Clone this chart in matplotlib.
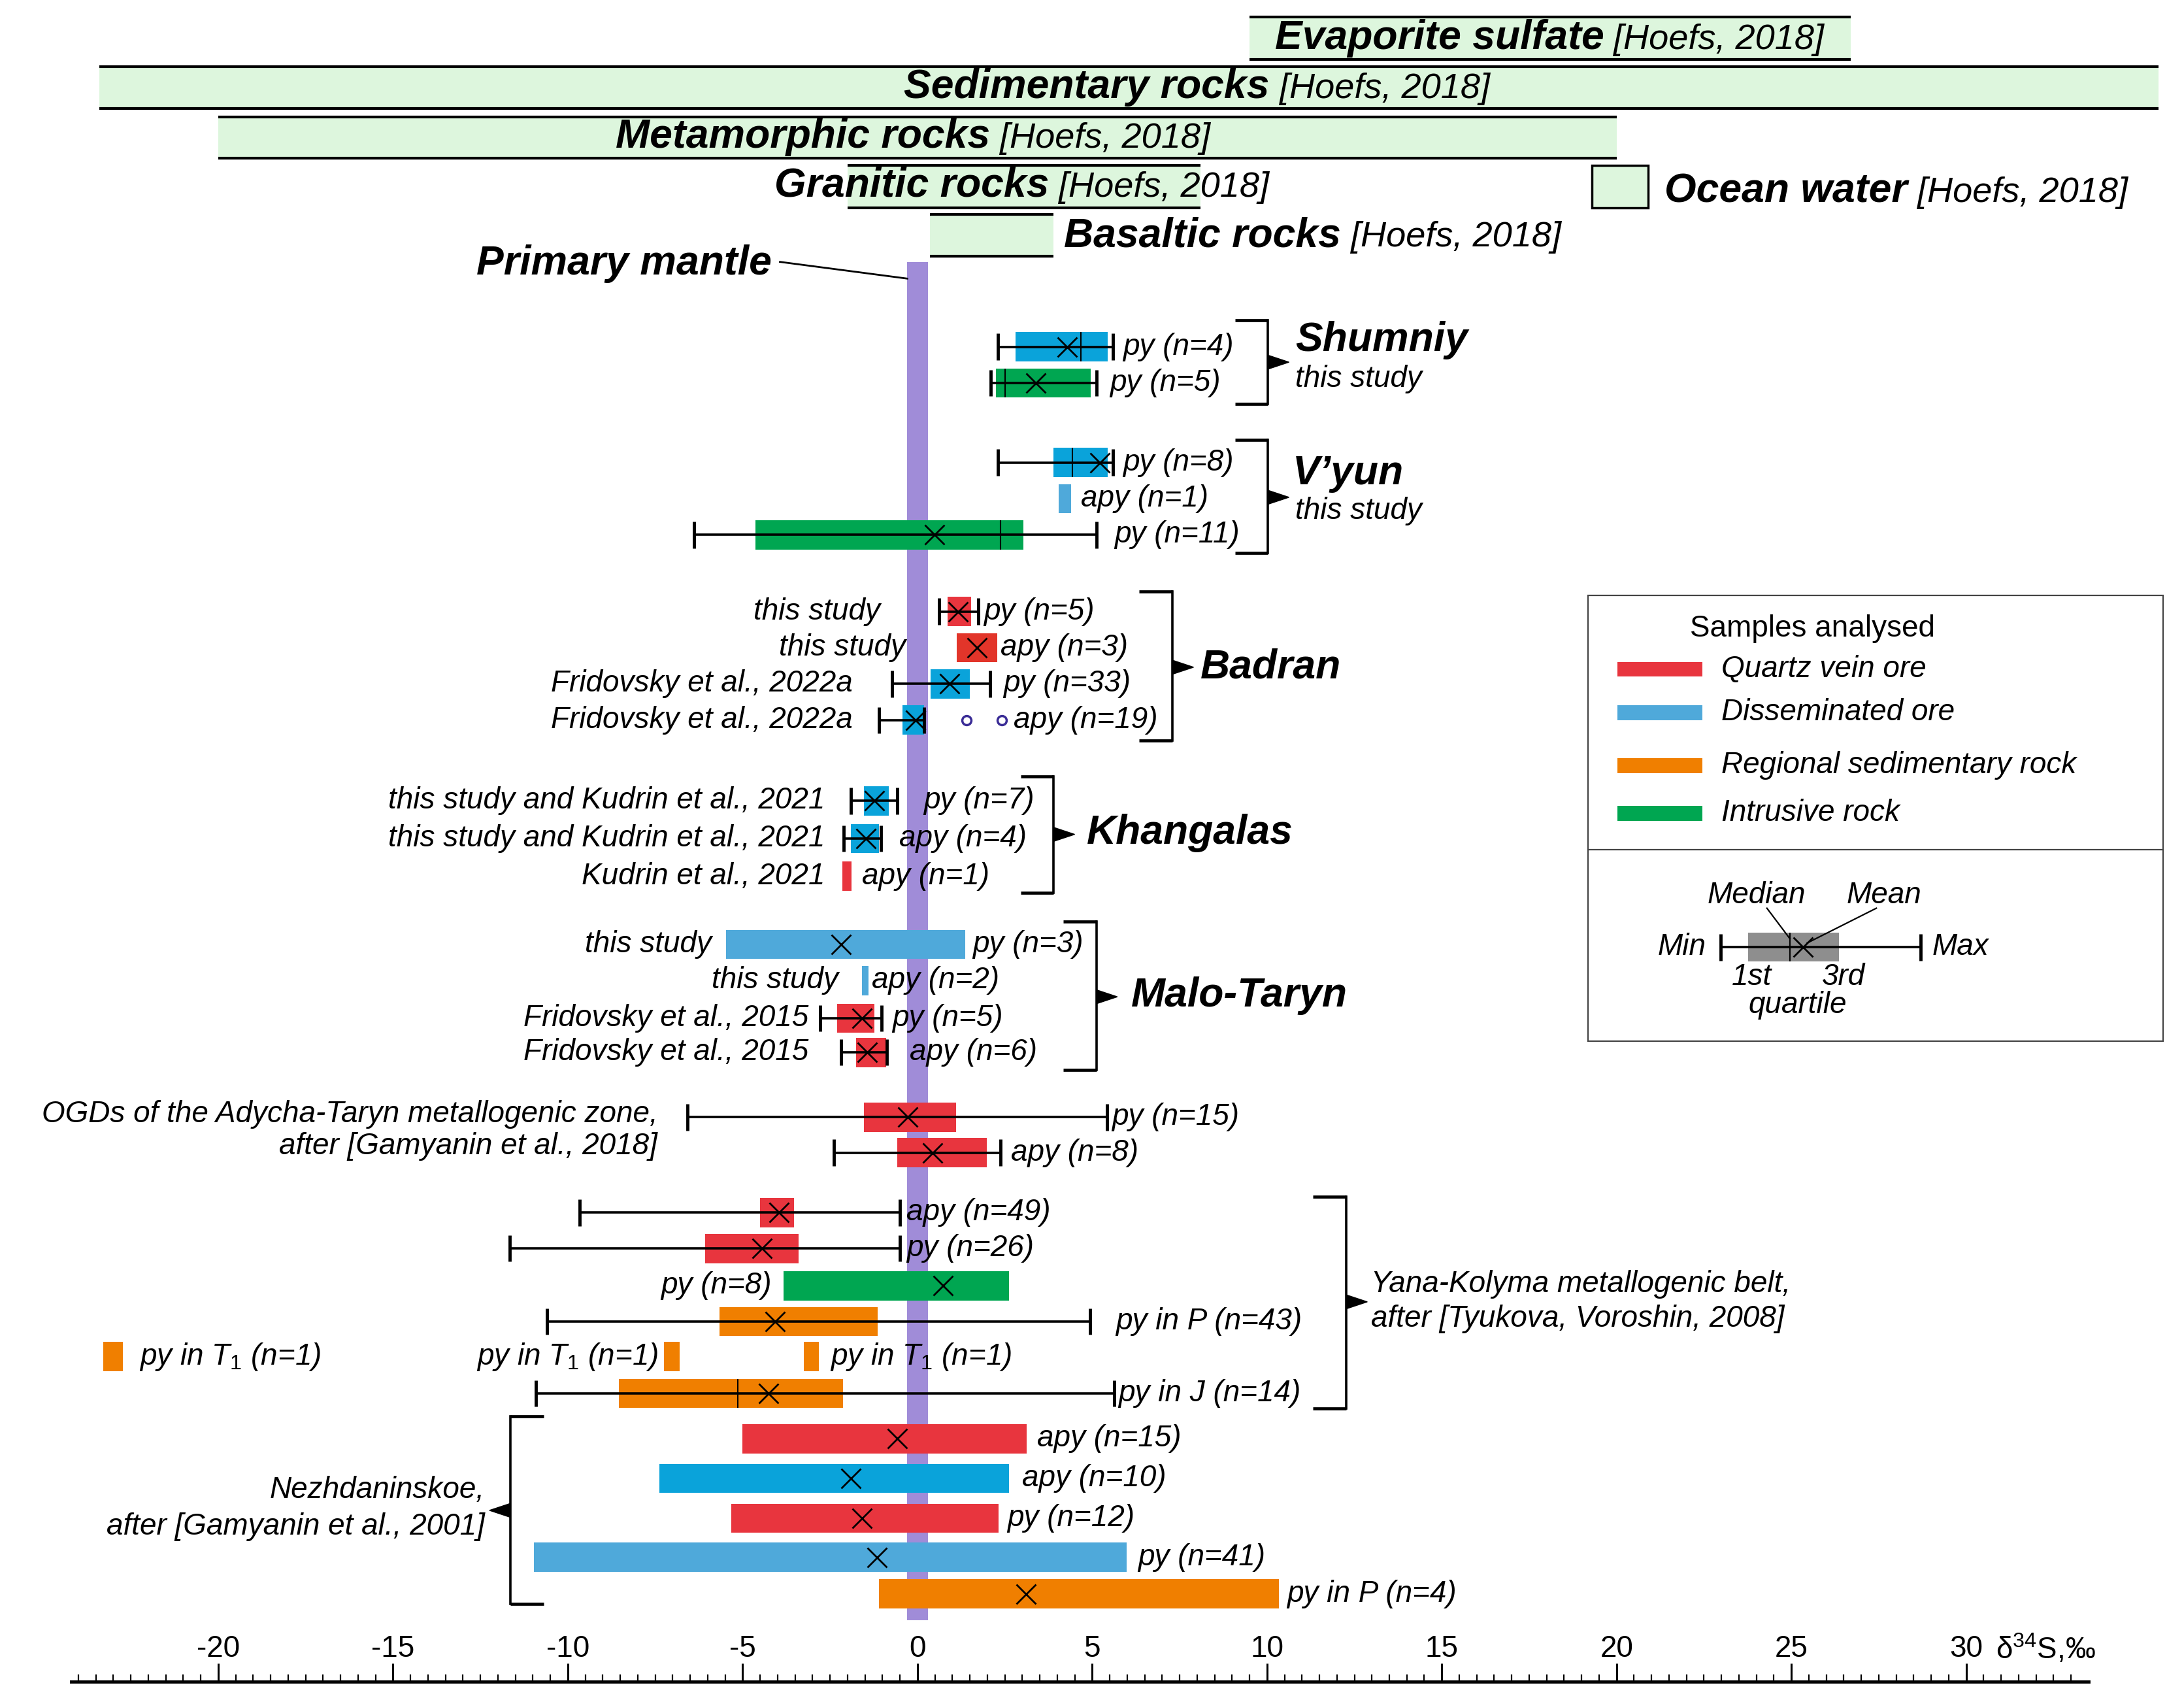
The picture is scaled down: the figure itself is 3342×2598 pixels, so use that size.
import matplotlib
matplotlib.use("Agg")
import matplotlib.pyplot as plt
from matplotlib.patches import Rectangle, Polygon

plt.rcParams['font.family'] = ['Liberation Sans', 'DejaVu Sans']
plt.rcParams['mathtext.fontset'] = 'custom'
plt.rcParams['mathtext.rm'] = 'Liberation Sans'
plt.rcParams['mathtext.it'] = 'Liberation Sans:italic'
plt.rcParams['mathtext.bf'] = 'Liberation Sans:bold'

# ---------------- colours ----------------
RED = '#E8353E'
RED2 = '#E2352A'
BLUE = '#0AA3DA'
LBLUE = '#4FA9DA'
ORANGE = '#F07F00'
GREEN = '#00A651'
PURPLE = '#A08CD8'
MINT = '#DDF6DD'

# ---------------- reference ranges [Hoefs, 2018] ----------------
ref_names = ['Evaporite sulfate', 'Sedimentary rocks', 'Metamorphic rocks',
             'Granitic rocks', 'Basaltic rocks']
ref_lo = [9.5, -23.4, -20.0, -2.0, 0.35]
ref_hi = [26.7, 35.5, 20.0, 8.1, 3.9]
ocean_lo, ocean_hi = 19.3, 20.9
mantle_lo, mantle_hi = -0.29, 0.31

# ---------------- sample statistics (delta34S, permil) ----------------
T1 = r'py in $T_{\mathit{1}}$ (n=1)'
row_text = ['py (n=4)', 'py (n=5)', 'py (n=8)', 'apy (n=1)', 'py (n=11)',
            'py (n=5)', 'apy (n=3)', 'py (n=33)', 'apy (n=19)',
            'py (n=7)', 'apy (n=4)', 'apy (n=1)',
            'py (n=3)', 'apy (n=2)', 'py (n=5)', 'apy (n=6)',
            'py (n=15)', 'apy (n=8)',
            'apy (n=49)', 'py (n=26)', 'py (n=8)', 'py in P (n=43)', T1, T1, T1,
            'py in J (n=14)',
            'apy (n=15)', 'apy (n=10)', 'py (n=12)', 'py (n=41)', 'py in P (n=4)']
row_min = [2.30, 2.10, 2.30, None, -6.38,
           0.62, None, -0.72, -1.10,
           -1.90, -2.10, None,
           None, None, -2.79, -2.19,
           -6.58, -2.38,
           -9.66, -11.66, None, -10.59, None, None, None, -10.91,
           None, None, None, None, None]
row_q1 = [2.81, 2.25, 3.90, 4.05, -4.63,
          0.87, 1.12, 0.37, -0.43,
          -1.53, -1.90, -2.15,
          -5.48, -1.58, -2.30, -1.75,
          -1.53, -0.57,
          -4.50, -6.08, -3.83, -5.66, -23.29, -7.24, -3.25, -8.53,
          -5.01, -7.38, -5.33, -10.96, -1.10]
row_med = [4.67, 2.50, 4.44, None, 2.38,
           None, None, None, None,
           None, None, None,
           None, None, None, None,
           None, None,
           None, None, None, None, None, None, None, -5.13,
           None, None, None, None, None]
row_mean = [4.28, 3.38, 5.21, None, 0.49,
            1.17, 1.70, 0.92, -0.05,
            -1.23, -1.47, None,
            -2.18, None, -1.59, -1.43,
            -0.27, 0.43,
            -3.95, -4.45, 0.73, -4.08, None, None, None, -4.25,
            -0.57, -1.90, -1.58, -1.15, 3.11]
row_q3 = [5.44, 4.95, 5.44, 4.39, 3.04,
          1.54, 2.29, 1.50, 0.20,
          -0.82, -1.09, -1.88,
          1.37, -1.40, -1.23, -0.90,
          1.10, 1.98,
          -3.53, -3.40, 2.63, -1.13, -22.73, -6.80, -2.81, -2.13,
          3.13, 2.63, 2.33, 5.99, 10.34]
row_max = [5.60, 5.12, 5.60, None, 5.13,
           1.75, None, 2.07, 0.20,
           -0.58, -1.05, None,
           None, None, -1.02, -0.88,
           5.43, 2.38,
           -0.50, -0.50, None, 4.93, None, None, None, 5.63,
           None, None, None, None, None]
row_color = [BLUE, GREEN, BLUE, LBLUE, GREEN,
             RED, RED2, BLUE, BLUE,
             BLUE, BLUE, RED,
             LBLUE, LBLUE, RED, RED,
             RED, RED,
             RED, RED, GREEN, ORANGE, ORANGE, ORANGE, ORANGE, ORANGE,
             RED, BLUE, RED, LBLUE, ORANGE]
outlier_x = [1.40, 2.41]
outlier_row = 8

# ---------------- layout (vertical positions, label anchors) ----------------
row_y = [249, 275, 332, 358, 384,
         439, 465, 491, 517,
         575, 602, 629,
         678, 704, 731, 755.5,
         802, 827.5,
         870.5, 896.3, 923, 948.7, 974, 974, 974, 1000.3,
         1032.8, 1061.3, 1090, 1118, 1144.2]
row_lab_x = [5.88, 5.51, 5.88, 4.68, 5.63,
             1.89, 2.37, 2.45, 2.76,
             0.18, -0.52, -1.58,
             1.57, -1.30, -0.72, -0.22,
             5.55, 2.68,
             -0.32, -0.32, -4.17, 5.67, -22.25, -7.41, -2.50, 5.75,
             3.43, 3.0, 2.56, 6.31, 10.57]
row_lab_side = ['r'] * 20 + ['l', 'r', 'r', 'l', 'r', 'r'] + ['r'] * 5

src_text = ['this study', 'this study', 'Fridovsky et al., 2022a', 'Fridovsky et al., 2022a',
            'this study and Kudrin et al., 2021', 'this study and Kudrin et al., 2021',
            'Kudrin et al., 2021',
            'this study', 'this study', 'Fridovsky et al., 2015', 'Fridovsky et al., 2015']
src_row = [5, 6, 7, 8, 9, 10, 11, 12, 13, 14, 15]
src_x = [-1.06, -0.34, -1.86, -1.86, -2.65, -2.65, -2.65, -5.88, -2.26, -3.11, -3.11]

BOX_H = 21
SMALL = 33
BIG = 45
HOEFS = 39

fig = plt.figure(figsize=(33.42, 25.98), dpi=100)
ax = fig.add_axes([0, 0, 1, 1])
ax.set_xlim(-26.24, 36.23)
ax.set_ylim(1219, 0)
for s in ['top', 'left', 'right']:
    ax.spines[s].set_visible(False)
ax.yaxis.set_visible(False)
ax.patch.set_alpha(0)

# ---------- x axis ----------
tick_values = [-20, -15, -10, -5, 0, 5, 10, 15, 20, 25, 30]
minor_values = [v / 2 for v in range(-48, 67)]
axis_y = 1207.5
ax.spines['bottom'].set_position(('data', axis_y))
ax.spines['bottom'].set_bounds(-24.2, 33.5)
ax.spines['bottom'].set_linewidth(3.5)
ax.set_xticks(tick_values)
ax.set_xticks(minor_values, minor=True)
ax.tick_params(axis='x', which='major', direction='in', length=20, width=2.2,
               labelbottom=False)
ax.tick_params(axis='x', which='minor', direction='in', length=8, width=1.6)
for v in tick_values:
    ax.text(v, 1184, str(v), ha='center', va='center', fontsize=SMALL)
ax.text(30.85, 1184, 'δ$^{34}$S,‰', ha='left', va='center', fontsize=SMALL)


def mixed(x, y, bold, rest, bsize=BIG, rsize=HOEFS):
    t1 = ax.text(x, y, bold, fontsize=bsize, fontweight='bold', style='italic',
                 ha='left', va='baseline', zorder=6)
    ax.annotate(' ' + rest, xy=(1, y), xycoords=(t1, 'data'), fontsize=rsize,
                style='italic', ha='left', va='baseline', zorder=6)


# ---------- reference bands ----------
band_y = [(12, 42.5), (48, 78), (84, 113.5), (118.5, 149), (154, 184)]
band_text_x = [10.22, -0.38, -8.63, -4.09, 4.2]
band_base = [35, 70.5, 106, 141, 177]
for name, lo, hi, (y0, y1), tx, tb in zip(ref_names, ref_lo, ref_hi, band_y,
                                          band_text_x, band_base):
    ax.add_patch(Rectangle((lo, y0), hi - lo, y1 - y0, facecolor=MINT,
                           edgecolor='none', zorder=1))
    ax.hlines([y0, y1], lo, hi, color='black', lw=3, zorder=2)
    mixed(tx, tb, name, '[Hoefs, 2018]')
ax.add_patch(Rectangle((ocean_lo, 118.5), ocean_hi - ocean_lo, 30.5,
                       facecolor=MINT, edgecolor='black', lw=2.5, zorder=2))
mixed(21.37, 145, 'Ocean water', '[Hoefs, 2018]')

# ---------- primary mantle ----------
ax.add_patch(Rectangle((mantle_lo, 188), mantle_hi - mantle_lo, 975,
                       facecolor=PURPLE, edgecolor='none', zorder=1))
ax.text(-12.61, 197, 'Primary mantle', fontsize=BIG, fontweight='bold',
        style='italic', ha='left', va='baseline')
ax.plot([-3.93, mantle_lo], [188, 200], color='black', lw=2)

# ---------- box rows ----------
for i, y in enumerate(row_y):
    q1, q3 = row_q1[i], row_q3[i]
    ax.barh(y, q3 - q1, left=q1, height=BOX_H, color=row_color[i],
            edgecolor='none', zorder=2)
    mn, mx = row_min[i], row_max[i]
    if mn is not None:
        ax.hlines(y, mn, mx, color='black', lw=2.6, zorder=3)
        ax.vlines([mn, mx], y - 9.5, y + 9.5, color='black', lw=3.5, zorder=3)
    if row_med[i] is not None:
        ax.vlines(row_med[i], y - BOX_H / 2, y + BOX_H / 2, color='black',
                  lw=1.5, zorder=3)
    if row_mean[i] is not None:
        ax.plot(row_mean[i], y, marker='x', ms=22, mew=2, color='black',
                zorder=4)
    side = row_lab_side[i]
    ax.text(row_lab_x[i], y, row_text[i], fontsize=SMALL, style='italic',
            ha='left' if side == 'r' else 'right', va='center', zorder=6)

ax.plot(outlier_x, [row_y[outlier_row]] * len(outlier_x), ls='none', marker='o',
        ms=10, mfc='none', mec='#3A2C96', mew=2.5, zorder=4)

for t, r, x in zip(src_text, src_row, src_x):
    ax.text(x, row_y[r], t, fontsize=SMALL, style='italic', ha='right',
            va='center', zorder=6)


# ---------- brackets ----------
def bracket(x, y0, y1, py, facing='right', tick=0.95, point=0.6):
    s = 1 if facing == 'right' else -1
    ax.plot([x, x], [y0, y1], color='black', lw=2.6)
    ax.hlines([y0, y1], x - s * tick, x, color='black', lw=3.4)
    ax.add_patch(Polygon([(x, py - 5), (x + s * point, py), (x, py + 5)],
                         closed=True, facecolor='black', edgecolor='black',
                         lw=1))


bracket(10.03, 230, 290, 260)
bracket(10.03, 316, 397, 357)
bracket(7.30, 424.7, 531.8, 479)
bracket(3.90, 557.6, 641, 599)
bracket(5.12, 661.7, 768, 715.6)
bracket(12.27, 859, 1011, 934.6)
bracket(-11.64, 1016.7, 1151.6, 1084.3, facing='left')

# ---------- group labels ----------
def bold_label(x, y, s):
    ax.text(x, y, s, fontsize=BIG, fontweight='bold', style='italic',
            ha='left', va='center', zorder=6)


bold_label(10.81, 244, 'Shumniy')
ax.text(10.81, 272, 'this study', fontsize=SMALL, style='italic', va='center')
bold_label(10.73, 340, 'V’yun')
ax.text(10.81, 367, 'this study', fontsize=SMALL, style='italic', va='center')
bold_label(8.1, 479, 'Badran')
bold_label(4.84, 598, 'Khangalas')
bold_label(6.11, 715, 'Malo-Taryn')
ax.text(-7.43, 800, 'OGDs of the Adycha-Taryn metallogenic zone,', fontsize=SMALL,
        style='italic', ha='right', va='center')
ax.text(-7.43, 823, 'after [Gamyanin et al., 2018]', fontsize=SMALL,
        style='italic', ha='right', va='center')
ax.text(12.98, 922, 'Yana-Kolyma metallogenic belt,', fontsize=SMALL,
        style='italic', ha='left', va='center')
ax.text(12.98, 947, 'after [Tyukova, Voroshin, 2008]', fontsize=SMALL,
        style='italic', ha='left', va='center')
ax.text(-12.37, 1070, 'Nezhdaninskoe,', fontsize=SMALL, style='italic',
        ha='right', va='center')
ax.text(-12.37, 1096, 'after [Gamyanin et al., 2001]', fontsize=SMALL,
        style='italic', ha='right', va='center')

# ---------- legend ----------
leg_names = ['Quartz vein ore', 'Disseminated ore', 'Regional sedimentary rock',
             'Intrusive rock']
leg_colors = [RED, LBLUE, ORANGE, GREEN]
leg_y = [480.5, 511.6, 549.5, 583.8]
ax.add_patch(Rectangle((19.18, 427.5), 35.64 - 19.18, 747.5 - 427.5,
                       facecolor='none', edgecolor='#444444', lw=1.6, zorder=5))
ax.hlines(610.2, 19.18, 35.64, color='#444444', lw=1.6, zorder=5)
ax.text(22.09, 451.4, 'Samples analysed', fontsize=SMALL, ha='left', va='center')
for n, c, y in zip(leg_names, leg_colors, leg_y):
    ax.barh(y, 22.45 - 20.02, left=20.02, height=10.7, color=c, edgecolor='none')
    ax.text(22.99, y, n, fontsize=SMALL, style='italic', ha='left', va='center')

ly = 680
ax.barh(ly, 26.36 - 23.77, left=23.77, height=20.8, color='#8E8E8E',
        edgecolor='none', zorder=2)
ax.hlines(ly, 22.97, 28.70, color='black', lw=2.6, zorder=3)
ax.vlines([22.97, 28.70], ly - 9.5, ly + 9.5, color='black', lw=3.5, zorder=3)
ax.vlines(24.96, ly - 10.4, ly + 10.4, color='black', lw=1.5, zorder=3)
ax.plot(25.33, ly, marker='x', ms=22, mew=2, color='black', zorder=4)
ax.text(22.56, ly, 'Min', fontsize=SMALL, style='italic', ha='right', va='center')
ax.text(29.02, ly, 'Max', fontsize=SMALL, style='italic', ha='left', va='center')
ax.text(24.0, 643, 'Median', fontsize=SMALL, style='italic', ha='center', va='center')
ax.text(27.65, 643, 'Mean', fontsize=SMALL, style='italic', ha='center', va='center')
ax.plot([24.3, 24.96], [652, 674], color='black', lw=1.6)
ax.plot([27.43, 25.45], [652, 677], color='black', lw=1.6)
ax.text(23.86, 701.4, '1st', fontsize=SMALL, style='italic', ha='center', va='center')
ax.text(26.50, 701.4, '3rd', fontsize=SMALL, style='italic', ha='center', va='center')
ax.text(25.17, 721.8, 'quartile', fontsize=SMALL, style='italic', ha='center',
        va='center')

fig.savefig('out.png', dpi=100)
